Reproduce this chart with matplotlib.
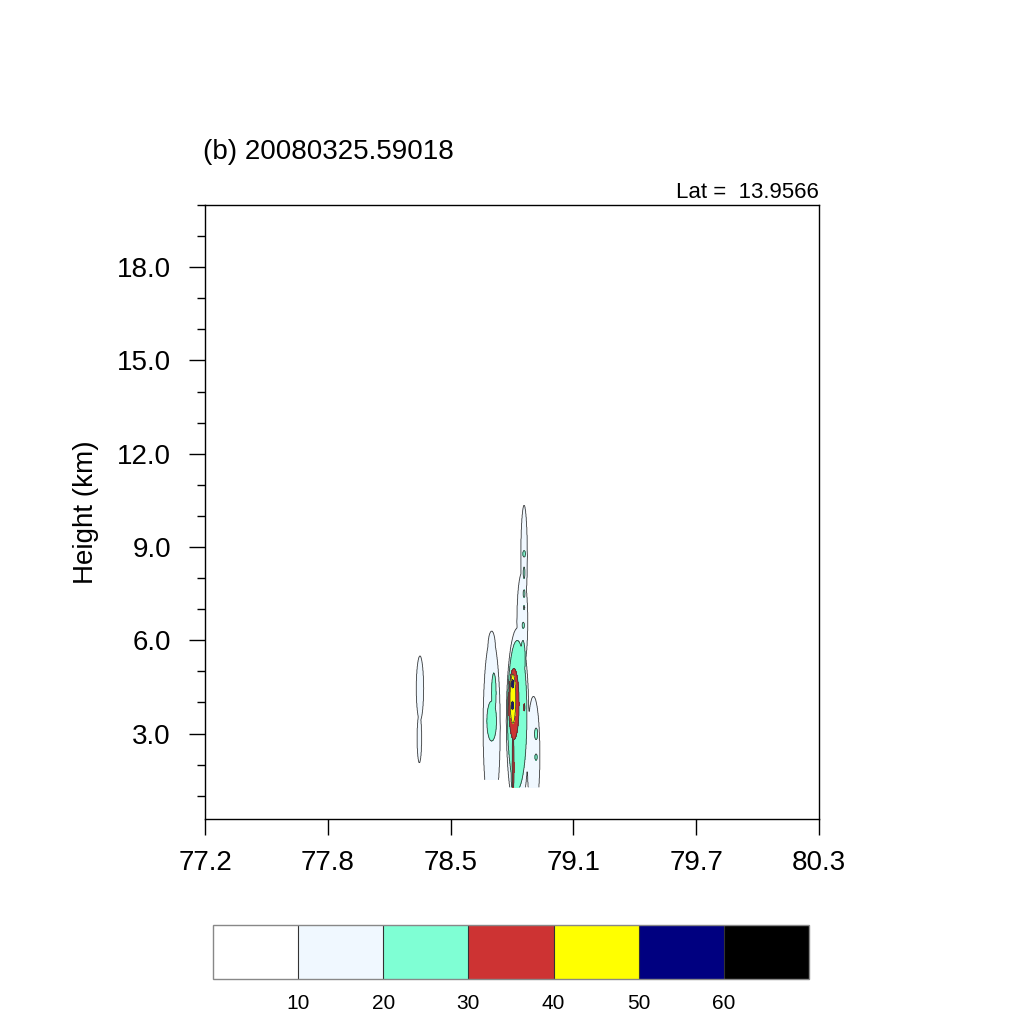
import numpy as np
import matplotlib
matplotlib.use('Agg')
import matplotlib as mpl
import matplotlib.pyplot as plt
from matplotlib.colors import ListedColormap, BoundaryNorm
from matplotlib.ticker import MultipleLocator, NullLocator

plt.rcParams['font.family'] = ['Liberation Sans', 'DejaVu Sans']

TITLE = '(b) 20080325.59018'
LAT_TEXT = 'Lat =  13.9566'
YLABEL = 'Height (km)'
LON_RANGE = (77.2, 80.325)
HEIGHT_RANGE = (0.25, 20.0)
XTICK_LABELS = ['77.2', '77.8', '78.5', '79.1', '79.7', '80.3']
YTICKS = [3.0, 6.0, 9.0, 12.0, 15.0, 18.0]
LEVELS = [10, 20, 30, 40, 50, 60]
COLORS = ['#FFFFFF', '#F0F8FF', '#7FFFD4', '#CD3333', '#FFFF00', '#000080', '#000000']

# echo cells:
# centre lon (deg), centre height (km), half-width (deg), half-height (km), edge dBZ
CELL_LON = [78.294, 78.291,
            78.659, 78.659, 78.659, 78.670,
            78.824, 78.815, 78.791, 78.872,
            78.789, 78.779, 78.818,
            78.824, 78.824, 78.824, 78.824, 78.820,
            78.885, 78.885,
            78.772, 78.768, 78.825,
            78.767,
            78.765, 78.765]
CELL_HGT = [4.45, 2.85,
            3.2, 5.7, 3.4, 4.3,
            8.7, 6.6, 3.4, 2.3,
            3.6, 1.8, 5.4,
            8.78, 8.17, 7.50, 7.05, 6.48,
            2.99, 2.24,
            3.95, 2.0, 3.84,
            4.12,
            4.6, 3.9]
CELL_HALF_W = [0.019, 0.012,
               0.044, 0.020, 0.025, 0.012,
               0.017, 0.028, 0.058, 0.033,
               0.050, 0.022, 0.012,
               0.0068, 0.0045, 0.005, 0.0035, 0.006,
               0.0083, 0.006,
               0.027, 0.005, 0.003,
               0.015,
               0.004, 0.004]
CELL_HALF_H = [1.05, 0.80,
               2.9, 0.6, 0.65, 0.65,
               1.65, 1.6, 3.0, 1.9,
               2.4, 1.0, 0.6,
               0.11, 0.19, 0.13, 0.07, 0.10,
               0.19, 0.11,
               1.15, 1.0, 0.12,
               0.8,
               0.15, 0.15]
CELL_DBZ = [10, 10,
            10, 10, 20, 20,
            10, 10, 10, 10,
            20, 20, 20,
            20, 20, 20, 20, 20,
            20, 20,
            30, 30, 30,
            40,
            50, 50]

# lowest valid data height, by longitude band
FLOOR_SPLIT_LON = [78.712]
FLOOR_HGT = [1.5, 1.26]

# ---- build field on a grid ----
lon = np.arange(LON_RANGE[0], LON_RANGE[1] + 1e-9, 0.0015)
hgt = np.arange(HEIGHT_RANGE[0], HEIGHT_RANGE[1] + 1e-9, 0.02)
LON, HGT = np.meshgrid(lon, hgt)
field = np.zeros_like(LON)
for x0, z0, a, b, lev in zip(CELL_LON, CELL_HGT, CELL_HALF_W, CELL_HALF_H, CELL_DBZ):
    r2 = ((LON - x0) / a) ** 2 + ((HGT - z0) / b) ** 2
    f = np.where(r2 <= 1, lev + 8 * (1 - r2), lev - 300 * (r2 - 1))
    field = np.maximum(field, f)
floor = np.array(FLOOR_HGT)[np.digitize(LON, FLOOR_SPLIT_LON)]
field = np.ma.masked_where(HGT < floor, field)

fig = plt.figure(figsize=(10.24, 10.24), dpi=100)
ax = fig.add_axes([205 / 1024, 1 - 819 / 1024, 614 / 1024, 614 / 1024])
ax.contourf(LON, HGT, field, levels=[-1] + LEVELS + [1000], colors=COLORS)
ax.contour(LON, HGT, field, levels=LEVELS, colors='#3a3a3a', linewidths=0.6)

ax.set_xlim(*LON_RANGE)
ax.set_ylim(*HEIGHT_RANGE)
ax.set_xticks(np.linspace(LON_RANGE[0], LON_RANGE[1], len(XTICK_LABELS)))
ax.set_xticklabels(XTICK_LABELS)
ax.set_yticks(YTICKS)
ax.set_yticklabels(['%.1f' % v for v in YTICKS])
ax.yaxis.set_minor_locator(MultipleLocator(1.0))
ax.tick_params(axis='both', which='major', direction='out', length=11.5, width=1.0,
               labelsize=20, colors='black')
ax.tick_params(axis='x', which='major', pad=11)
ax.tick_params(axis='y', which='major', pad=13)
ax.tick_params(axis='y', which='minor', direction='out', length=5.8, width=1.0)
ax.tick_params(axis='x', which='minor', length=0)
for s in ax.spines.values():
    s.set_linewidth(1.0)

fig.text(203 / 1024, 1 - 152 / 1024, TITLE, fontsize=20, ha='left', va='center')
fig.text(819 / 1024, 1 - 193 / 1024, LAT_TEXT, fontsize=16, ha='right', va='center')
fig.text(86 / 1024, 1 - 512 / 1024, YLABEL, fontsize=20, rotation=90,
         ha='center', va='center')

cax = fig.add_axes([213 / 1024, 1 - 979 / 1024, 596 / 1024, 54 / 1024])
cmap = ListedColormap(COLORS)
norm = BoundaryNorm([0] + LEVELS + [70], len(COLORS))
cb = mpl.colorbar.ColorbarBase(cax, cmap=cmap, norm=norm, orientation='horizontal',
                               ticks=LEVELS, drawedges=True)
cb.outline.set_edgecolor('#888888')
cb.outline.set_linewidth(1.0)
cb.dividers.set_color('#333333')
cb.dividers.set_linewidth(0.8)
cax.xaxis.set_minor_locator(NullLocator())
cax.tick_params(which='both', length=0, labelsize=15, pad=11)
cax.set_xticklabels([str(v) for v in LEVELS])

fig.savefig('out.png', dpi=100)
